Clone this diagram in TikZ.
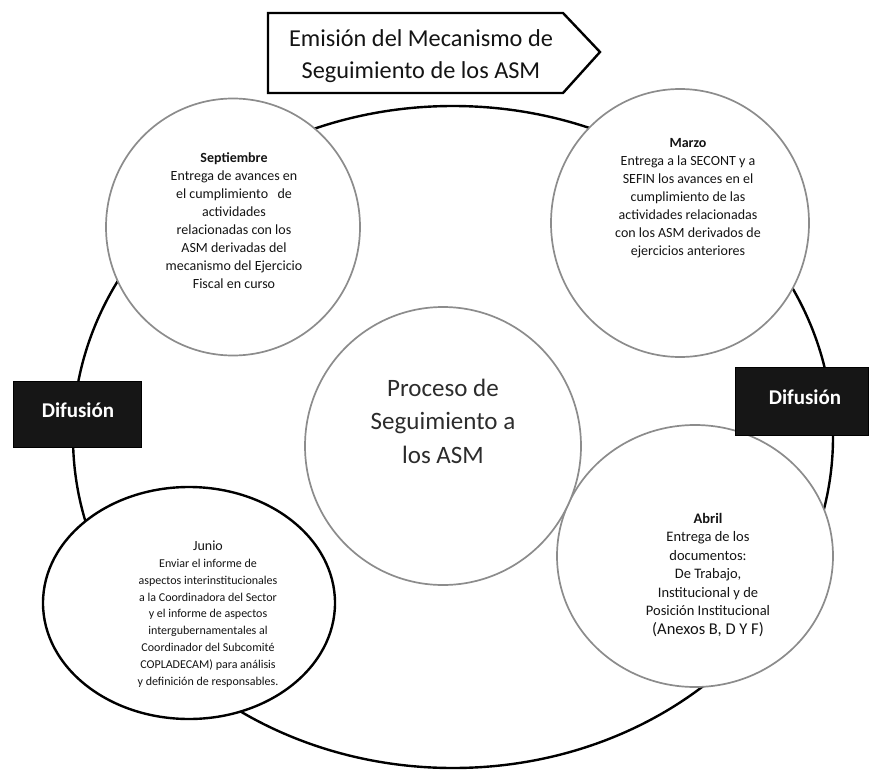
\documentclass[tikz,border=0pt]{standalone}
\usepackage{fontspec}
\setmainfont{Carlito}
\usetikzlibrary{shapes.geometric}
\definecolor{bubgray}{RGB}{140,140,140}
\definecolor{inkc}{RGB}{20,20,20}
\definecolor{boxc}{RGB}{22,22,22}
\begin{document}
\begin{tikzpicture}[x=1pt,y=-1pt,
  outerline/.style={draw=black, line width=2.4pt},
  bub/.style={ellipse, draw=bubgray, line width=1.7pt, fill=white, inner sep=0pt},
  bubdark/.style={ellipse, draw=black, line width=2.4pt, fill=white, inner sep=0pt},
  difbox/.style={rectangle, fill=boxc, draw=black, line width=0.8pt, inner sep=0pt},
  difText/.style={text=white, font=\fontsize{21}{25}\selectfont\bfseries, inner sep=0pt},
  smalltxt/.style={align=center, text=inkc, inner sep=0pt, font=\fontsize{14}{18}\selectfont},
  juntxt/.style={align=center, text=inkc, inner sep=0pt, font=\fontsize{12}{16.8}\selectfont},
  bigtxt/.style={align=center, text=inkc!90, inner sep=0pt, font=\fontsize{25}{33.5}\selectfont},
  arrtxt/.style={align=center, text=inkc, inner sep=0pt, font=\fontsize{24.3}{32}\selectfont}
]
\useasboundingbox (0,0) rectangle (870,771);
\fill[white] (0,0) rectangle (870,771);

% outer cycle
\draw[outerline] (453,437) ellipse [x radius=380pt, y radius=331pt];

% top arrow
\coordinate (a1) at (268,13);
\coordinate (a2) at (563,13);
\coordinate (a3) at (600,52);
\coordinate (a4) at (563,93);
\coordinate (a5) at (268,93);
\draw[line width=2.4pt, fill=white, line join=miter] (a1) -- (a2) -- (a3) -- (a4) -- (a5) -- cycle;
\node[arrtxt] (emis) at (421,56) {Emisión del Mecanismo de\\Seguimiento de los ASM};

% bubbles
\node[bub, minimum width=254pt, minimum height=257pt] (sep) at (233,227) {};
\node[bub, minimum width=258pt, minimum height=268pt] (mar) at (680,223) {};
\node[bub, minimum width=276pt, minimum height=262pt] (abr) at (695,556) {};
\node[bubdark, minimum width=292pt, minimum height=232pt] (jun) at (189,603) {};
\node[bub, minimum width=276pt, minimum height=278pt] (cen) at (443,446) {};

% texts
\node[smalltxt] (tsep) at (234,221) {\textbf{Septiembre}\\Entrega de avances en\\el cumplimiento\ \ \ de\\actividades\\relacionadas con los\\ASM derivadas del\\mecanismo del Ejercicio\\Fiscal en curso};
\node[smalltxt] (tmar) at (688,198) {\textbf{Marzo}\\Entrega a la SECONT y a\\SEFIN los avances en el\\cumplimiento de las\\actividades relacionadas\\con los ASM derivados de\\ejercicios anteriores};
\node[smalltxt, font=\fontsize{14.5}{18.5}\selectfont] (tabr) at (708,575) {\textbf{Abril}\\Entrega de los\\documentos:\\De Trabajo,\\Institucional y de\\Posición Institucional\\{\fontsize{16.5}{20}\selectfont (Anexos B, D Y F)}};
\node[juntxt] (tjun) at (208,614) {{\fontsize{14}{16.8}\selectfont Junio}\\Enviar el informe de\\aspectos interinstitucionales\\a la Coordinadora del Sector\\y el informe de aspectos\\intergubernamentales al\\Coordinador del Subcomité\\COPLADECAM) para análisis\\y definición de responsables.};
\node[bigtxt] (tcen) at (443,421) {Proceso de\\Seguimiento a\\los ASM};

% Difusion boxes
\node[difbox, minimum width=128pt, minimum height=66pt] (difL) at (77,414) {};
\node[difText] (difLt) at (78,410) {Difusión};
\node[difbox, minimum width=133pt, minimum height=68pt] (difR) at (801.5,401) {};
\node[difText] (difRt) at (805,397) {Difusión};
\end{tikzpicture}
\end{document}
